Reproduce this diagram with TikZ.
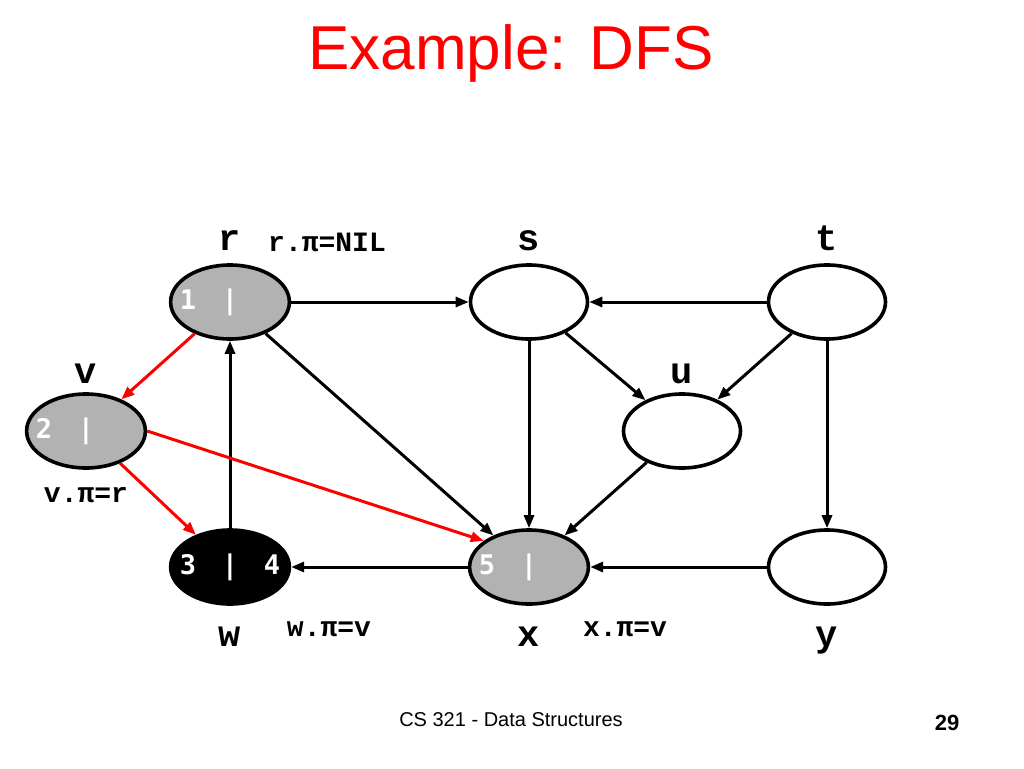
\documentclass[tikz,border=0pt]{standalone}
\usepackage{fontspec}
\setmainfont{Liberation Sans}
\setmonofont{Liberation Mono}
\newfontfamily\stampfont{DejaVu Sans Mono}
\usetikzlibrary{positioning,arrows.meta,shapes.geometric}

\definecolor{visited}{RGB}{178,178,178}
\definecolor{slidered}{RGB}{255,0,0}

% discovery | finish times, digits either side of the bar
\newcommand\stamp[2]{\makebox[84pt]{\makebox[0pt]{#1}\hfill\makebox[0pt]{|}\hfill\makebox[0pt]{#2}}}

\begin{document}
\begin{tikzpicture}[x=1pt,y=-1pt,
    vtx/.style={ellipse,draw,line width=3.6pt,minimum width=117pt,minimum height=74pt,
                inner sep=0pt,text=white,font=\stampfont\bfseries\fontsize{27}{27}\selectfont},
    grey/.style={vtx,fill=visited},
    done/.style={vtx,fill=black},
    edge/.style={line width=3pt,-{Triangle[length=13pt,width=10pt]}},
    tree/.style={edge,draw=slidered},
    tag/.style={inner sep=0pt,font=\ttfamily\bfseries\fontsize{37}{37}\selectfont},
    note/.style={inner sep=0pt,font=\ttfamily\bfseries\fontsize{28}{28}\selectfont}]
    \useasboundingbox (0,0) rectangle (1024,768);

    \node [text=slidered,anchor=base,font=\fontsize{62}{62}\selectfont] (title) at (511,70) {Example: DFS};

    % vertices
    \node [grey] (r) at (230,302) {\stamp{1}{}};
    \node [vtx]  (s) at (529,302) {};
    \node [vtx]  (t) at (827,302) {};
    \node [grey] (v) at (86,431)  {\stamp{2}{}};
    \node [vtx]  (u) at (682,431) {};
    \node [done] (w) at (230,567) {\stamp{3}{4}};
    \node [grey] (x) at (529,567) {\stamp{5}{}};
    \node [vtx]  (y) at (827,567) {};

    % vertex names
    \node [tag,above=13pt of r,anchor=base] (rname) {r};
    \node [tag,above=13pt of s,anchor=base] (sname) {s};
    \node [tag,above=13pt of t,anchor=base] (tname) {t};
    \node [tag,above=9pt of v,anchor=base] (vname) {v};
    \node [tag,above=9pt of u,anchor=base] (uname) {u};
    \node [tag,below=41pt of w,anchor=base] (wname) {w};
    \node [tag,below=41pt of x,anchor=base] (xname) {x};
    \node [tag,below=41pt of y,anchor=base] (yname) {y};

    % predecessors
    \node [note,anchor=base west] (rpi) at (268,251) {r.π=NIL};
    \node [note,below=33pt of v,anchor=base] (vpi) {v.π=r};
    \node [note,anchor=base] (wpi) at (329,636) {w.π=v};
    \node [note,anchor=base] (xpi) at (625,636) {x.π=v};

    % edges
    \draw [edge] (r) -- (s);
    \draw [edge] (t) -- (s);
    \draw [edge] (s) -- (x);
    \draw [edge] (s) -- (u);
    \draw [edge] (t) -- (u);
    \draw [edge] (t) -- (y);
    \draw [edge] (u) -- (x);
    \draw [edge] (y) -- (x);
    \draw [edge] (x) -- (w);
    \draw [edge] (w) -- (r);
    \draw [edge] (r) -- (x);
    \draw [tree] (r) -- (v);
    \draw [tree] (v) -- (w);
    \draw [tree] (v.east) -- (x.150);

    \node [anchor=base,font=\fontsize{20}{20}\selectfont] (course) at (511,726) {CS 321 - Data Structures};
    \node [anchor=base,font=\bfseries\fontsize{22}{22}\selectfont] (page) at (947,730) {29};
\end{tikzpicture}
\end{document}
